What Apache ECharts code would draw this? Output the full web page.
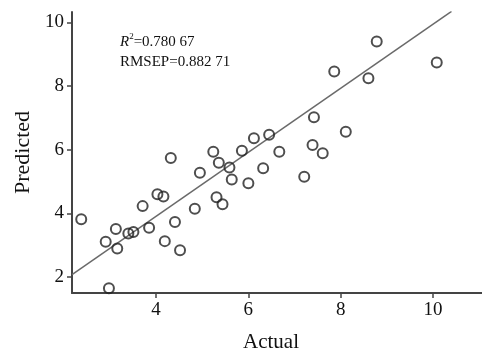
<!DOCTYPE html>
<html>
<head>
<meta charset="utf-8">
<script src="https://cdn.jsdelivr.net/npm/echarts@6/dist/echarts.min.js"></script>
<style>
  html, body { margin: 0; padding: 0; background: #fff; }
  #main { width: 482px; height: 350px; }
</style>
</head>
<body>
<div id="main"></div>
<script>
const actual = [2.38, 2.98, 2.91, 3.13, 3.16, 3.40, 3.51, 3.85, 3.71, 4.03,
  4.16, 4.41, 4.19, 4.52, 4.84, 4.32, 4.95, 5.24, 5.36, 5.59,
  5.64, 5.31, 5.44, 5.86, 6.00, 6.12, 6.45, 6.32, 6.67, 7.42,
  8.11, 7.39, 7.61, 7.21, 8.78, 7.86, 8.60, 10.08];
const predicted = [3.82, 1.65, 3.11, 3.51, 2.90, 3.37, 3.42, 3.55, 4.23, 4.60,
  4.53, 3.73, 3.13, 2.84, 4.15, 5.74, 5.28, 5.94, 5.59, 5.44,
  5.07, 4.51, 4.29, 5.97, 4.95, 6.36, 6.47, 5.42, 5.94, 7.02,
  6.57, 6.15, 5.89, 5.15, 9.40, 8.46, 8.25, 8.74];
// fitted line end points
const fitX = [2.18, 10.4];
const fitY = [2.08, 10.35];
const xTicks = [4, 6, 8, 10];
const yTicks = [2, 4, 6, 8, 10];

const serif = "'Liberation Serif', 'DejaVu Serif', serif";
const chart = echarts.init(document.getElementById("main"));

const option = {
  animation: false,
  textStyle: { fontFamily: serif, color: "#111" },
  grid: { left: 72, top: 12, right: 0, bottom: 57, containLabel: false, outerBoundsMode: "none" },
  xAxis: {
    type: "value",
    min: 2.18,
    max: 11.06,
    name: "Actual",
    nameLocation: "middle",
    nameGap: 39,
    nameTextStyle: { fontFamily: serif, fontSize: 21, color: "#111", padding: [0, 12, 0, 0] },
    axisLine: { onZero: false, lineStyle: { color: "#444", width: 2 } },
    axisTick: { customValues: xTicks, length: 5, lineStyle: { color: "#444", width: 1.5 } },
    axisLabel: { customValues: xTicks, fontFamily: serif, fontSize: 19, color: "#111", margin: 8 },
    splitLine: { show: false }
  },
  yAxis: {
    type: "value",
    min: 1.5,
    max: 10.33,
    name: "Predicted",
    nameLocation: "middle",
    nameGap: 37,
    nameTextStyle: { fontFamily: serif, fontSize: 22, color: "#111" },
    axisLine: { onZero: false, lineStyle: { color: "#444", width: 2 } },
    axisTick: { customValues: yTicks, length: 5, lineStyle: { color: "#444", width: 1.5 } },
    axisLabel: { customValues: yTicks, fontFamily: serif, fontSize: 19, color: "#111", margin: 8 },
    splitLine: { show: false }
  },
  graphic: [
    {
      type: "text",
      left: 120,
      top: 32,
      style: {
        text: "{i|R}{s|2}{n|=0.780 67}\n{n|RMSEP=0.882 71}",
        rich: {
          i: { fontFamily: serif, fontStyle: "italic", fontSize: 15, fill: "#111", lineHeight: 20 },
          s: { fontFamily: serif, fontSize: 9, fill: "#111", verticalAlign: "top", padding: [0, 0, 8, 0] },
          n: { fontFamily: serif, fontSize: 15, fill: "#111", lineHeight: 20 }
        }
      }
    }
  ],
  series: [
    {
      type: "line",
      data: fitX.map((x, i) => [x, fitY[i]]),
      showSymbol: false,
      lineStyle: { color: "#6a6a6a", width: 1.5 },
      z: 1
    },
    {
      type: "scatter",
      data: actual.map((x, i) => [x, predicted[i]]),
      symbol: "circle",
      symbolSize: 10,
      itemStyle: { color: "rgba(0,0,0,0)", borderColor: "#222", borderWidth: 2 },
      z: 2
    }
  ]
};
chart.setOption(option);
</script>
</body>
</html>
